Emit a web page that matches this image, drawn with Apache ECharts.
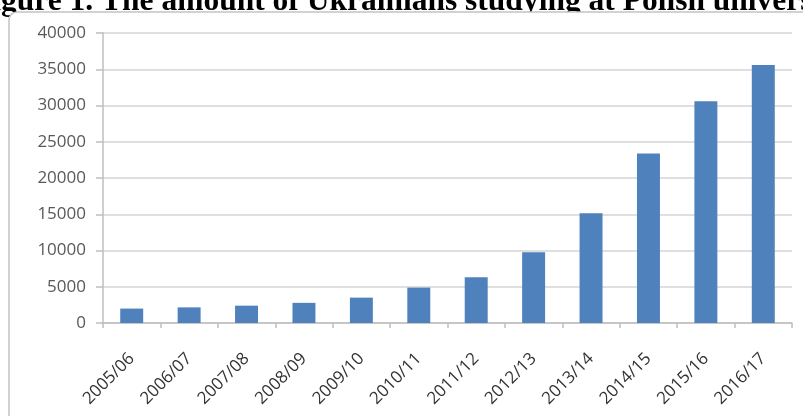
<!DOCTYPE html>
<html>
<head>
<meta charset="utf-8">
<script src="https://cdn.jsdelivr.net/npm/echarts@6/dist/echarts.min.js"></script>
<style>
html,body{margin:0;padding:0;background:#fff;}
#chart{width:803px;height:416px;}
</style>
</head>
<body>
<div id="chart"></div>
<script>
const titleText = 'Figure 1. The amount of Ukrainians studying at Polish universities';
const categories = ['2005/06','2006/07','2007/08','2008/09','2009/10','2010/11','2011/12','2012/13','2013/14','2014/15','2015/16','2016/17'];
const students = [1989, 2156, 2391, 2780, 3499, 4879, 6321, 9747, 15123, 23392, 30589, 35584];
const yTicks = {min: 0, max: 40000, interval: 5000};

const chart = echarts.init(document.getElementById('chart'), null, {renderer: 'canvas'});
chart.setOption({
  backgroundColor: '#ffffff',
  animation: false,
  title: {
    text: titleText,
    left: -27,
    top: -14,
    padding: 0,
    zlevel: 0,
    z: 0,
    textStyle: {fontFamily: 'Liberation Serif', fontWeight: 'bold', fontSize: 31.5, color: '#000'}
  },
  graphic: [{
    type: 'rect',
    zlevel: 0,
    z: 1,
    shape: {x: 9, y: 12, width: 830, height: 440, r: 8},
    style: {fill: '#ffffff', stroke: '#c4c4c4', lineWidth: 1.5}
  }],
  grid: {left: 103, right: 11, top: 33, bottom: 93, containLabel: false},
  xAxis: {
    type: 'category',
    zlevel: 1,
    data: categories,
    boundaryGap: true,
    axisLine: {show: true, lineStyle: {color: '#bfbfbf', width: 1.5}},
    axisTick: {show: true, length: 5, lineStyle: {color: '#bfbfbf', width: 1.5}},
    axisLabel: {rotate: 45, margin: 33, fontFamily: 'Open Sans', fontSize: 17, color: '#333333', interval: 0}
  },
  yAxis: {
    type: 'value',
    zlevel: 1,
    min: yTicks.min, max: yTicks.max, interval: yTicks.interval,
    axisLine: {show: true, lineStyle: {color: '#bfbfbf', width: 1.5}},
    axisTick: {show: true, length: 7, lineStyle: {color: '#bfbfbf', width: 1.5}},
    splitLine: {show: true, lineStyle: {color: '#d4d4d4', width: 1.5}},
    axisLabel: {margin: 17, fontFamily: 'Open Sans', fontSize: 17, color: '#595959', formatter: function (v) { return String(v); }}
  },
  series: [{
    type: 'bar',
    zlevel: 1,
    data: students,
    barWidth: '40%',
    itemStyle: {color: '#4f81bd'}
  }]
});
</script>
</body>
</html>
